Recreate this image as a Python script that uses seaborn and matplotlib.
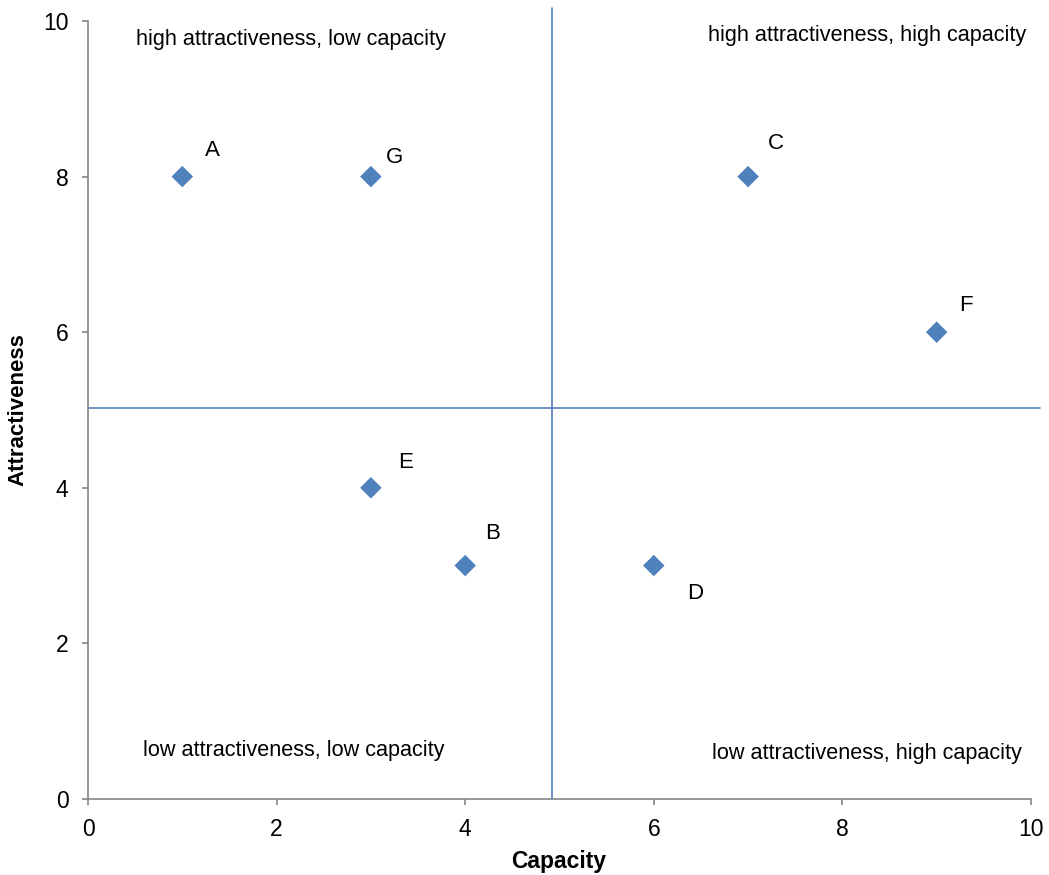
import matplotlib
matplotlib.use("Agg")
import matplotlib.pyplot as plt
import seaborn as sns
import pandas as pd

# Portfolio items: capacity vs attractiveness
names = ["A", "B", "C", "D", "E", "F", "G"]
capacity = [1, 4, 7, 6, 3, 9, 3]
attractiveness = [8, 3, 8, 3, 4, 6, 8]

# Quadrant divider positions
split_capacity = 4.92
split_attractiveness = 5.03

quadrant_labels = [
    "high attractiveness, low capacity",
    "high attractiveness, high capacity",
    "low attractiveness, low capacity",
    "low attractiveness, high capacity",
]

df = pd.DataFrame({"name": names, "Capacity": capacity, "Attractiveness": attractiveness})

sns.set_theme(style="white")
plt.rcParams["font.family"] = ["Liberation Sans", "DejaVu Sans"]

fig = plt.figure(figsize=(10.49, 8.75), dpi=100)
ax = fig.add_axes([0.0839, 0.0869, 0.8989, 0.8891])

blue = "#4F81BD"
gray = "#868686"

sns.scatterplot(data=df, x="Capacity", y="Attractiveness", marker="D",
                color=blue, s=120, edgecolor="none", ax=ax, zorder=3)

# Quadrant dividers, drawn a little past the axis limits
ax.plot([split_capacity, split_capacity], [0, 10.17], color=blue, lw=1.2,
        clip_on=False, zorder=2)
ax.plot([0, 10.1], [split_attractiveness, split_attractiveness], color=blue,
        lw=1.2, clip_on=False, zorder=2)

# Point labels (offsets in points)
offsets = {"A": (22, 19), "B": (20, 23), "C": (20, 24), "D": (30, -20),
           "E": (25, 18), "F": (21, 19), "G": (17, 14)}
for n, x, y in zip(names, capacity, attractiveness):
    ax.annotate(n, (x, y), xytext=offsets[n], textcoords="offset points",
                ha="center", va="center", fontsize=16, color="black")

# Quadrant captions
quad_pos = [(2.15, 9.76), (8.26, 9.81), (2.18, 0.62), (8.26, 0.59)]
for txt, (x, y) in zip(quadrant_labels, quad_pos):
    ax.text(x, y, txt, ha="center", va="center", fontsize=15.6, color="black")

ax.set_xlim(0, 10)
ax.set_ylim(0, 10)
ax.set_xticks(range(0, 11, 2))
ax.set_yticks(range(0, 11, 2))

for side in ["top", "right"]:
    ax.spines[side].set_visible(False)
for side in ["left", "bottom"]:
    ax.spines[side].set_color(gray)
    ax.spines[side].set_linewidth(1.2)

ax.tick_params(axis="both", direction="out", length=4, width=1.2, color=gray,
               labelsize=16.5, labelcolor="black", bottom=True, left=True)
ax.tick_params(axis="y", pad=10)
ax.tick_params(axis="x", pad=10)

ax.set_xlabel("Capacity", fontsize=16.5, fontweight="bold", va="center",
              color="black")
ax.set_ylabel("Attractiveness", fontsize=16, fontweight="bold", va="center",
              color="black")
ax.xaxis.set_label_coords(0.4995, -0.081)
ax.yaxis.set_label_coords(-0.0742, 0.5)

fig.savefig("out.png", dpi=100)
